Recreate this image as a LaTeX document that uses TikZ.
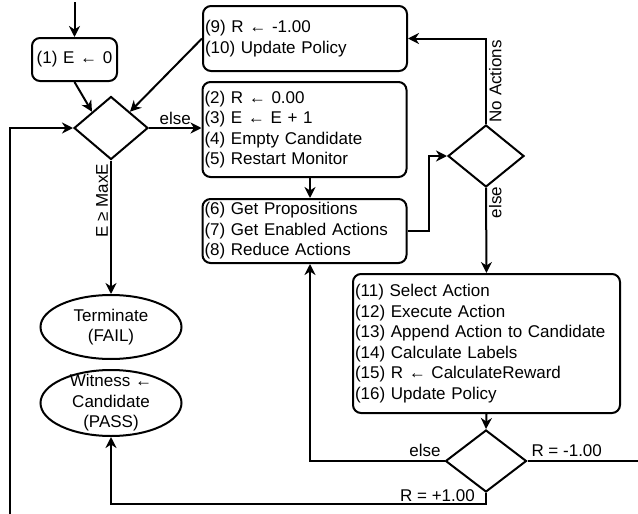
\documentclass[tikz,border=0pt]{standalone}
\usepackage{fontspec}
\setmainfont{Liberation Sans}
\usetikzlibrary{shapes.geometric,arrows.meta}
\begin{document}
\begin{tikzpicture}[x=1pt,y=-1pt,
  font=\fontsize{17}{20.5}\selectfont,
  lw/.style={line width=2pt},
  arr/.style={lw, -{Stealth[length=11pt,width=11pt,inset=3.5pt]}},
  proc/.style={draw, lw, rounded corners=8pt, align=left, inner xsep=2pt, inner ysep=0pt},
  dia/.style={diamond, draw, lw, inner sep=0pt},
  ell/.style={ellipse, draw, lw, inner sep=0pt, minimum width=141pt},
  lbl/.style={inner sep=2pt}]
\useasboundingbox (0,0) rectangle (638,514);

% nodes
\node[proc, align=center, text width=81pt, minimum height=43pt] (b1) at (74.5,59.5) {(1) E ← 0};
\node[proc, text width=200pt, minimum height=65pt] (b9) at (305,38.5) {(9) R ← -1.00\\(10) Update Policy};
\node[proc, text width=200pt, minimum height=95pt] (b2) at (304.5,129.5) {(2) R ← 0.00\\(3) E ← E + 1\\(4) Empty Candidate\\(5) Restart Monitor};
\node[proc, text width=200pt, minimum height=64pt] (b6) at (304.5,231) {(6) Get Propositions\\(7) Get Enabled Actions\\(8) Reduce Actions};
\node[proc, text width=263pt, minimum height=139pt] (b11) at (486.5,343.5) {(11) Select Action\\(12) Execute Action\\(13) Append Action to Candidate\\(14) Calculate Labels\\(15) R ← CalculateReward\\(16) Update Policy};
\node[dia, minimum width=74pt, minimum height=63pt] (d1) at (111,128) {};
\node[dia, minimum width=76pt, minimum height=62pt] (d2) at (486,156) {};
\node[dia, minimum width=81pt, minimum height=62pt] (d3) at (486,461) {};
\node[ell, minimum height=64pt, label={[align=center]center:Terminate\\(FAIL)}] (term) at (111,327) {};
\node[ell, minimum height=66pt, label={[align=center]center:Witness ←\\Candidate\\(PASS)}] (wit) at (111,403) {};

\coordinate (start) at (74.5,2);
\coordinate (lb) at (10,514);
\coordinate (re) at (640,461);

% connectors
\draw[arr] (start) -- (b1.north);
\draw[arr] (b1.south) -- (d1.north west);
\draw[arr] (b9.west) -- (d1.north east);
\draw[arr] (d1.east) -- node[lbl, above] {else} (b2.west |- d1.east);
\draw[arr] (lb) |- (d1.west);
\draw[arr] (d1.south) -- node[lbl, rotate=90, anchor=south, pos=0.3] {E ≥ MaxE} (term.north);
\draw[arr] ([xshift=5.5pt]b2.south) -- ([xshift=5.5pt]b6.north);
\draw[arr] (b6.east) -- ++(21,0) |- (d2.west);
\draw[arr] (d2.north) -- node[lbl, rotate=90, anchor=north, pos=0.5] {No Actions} (d2.north |- b9.east) -- (b9.east);
\draw[arr] (d2.south) -- node[lbl, rotate=90, anchor=north, pos=0.17] {else} (b11.north);
\draw[arr] (b11.south) -- (d3.north);
\draw[arr] (d3.west) node[lbl, anchor=south east, inner sep=3pt] {else} -| ([xshift=5.5pt]b6.south);
\draw[lw] (d3.east) node[lbl, anchor=south west, inner sep=3pt] {R = -1.00} -- (re);
\draw[arr] (d3.south) -- ++(0,11) coordinate (c3) -| (wit.south);
\node[lbl, anchor=south east, inner sep=2pt, xshift=-9pt] (l3) at (c3) {R = +1.00};
\end{tikzpicture}
\end{document}
